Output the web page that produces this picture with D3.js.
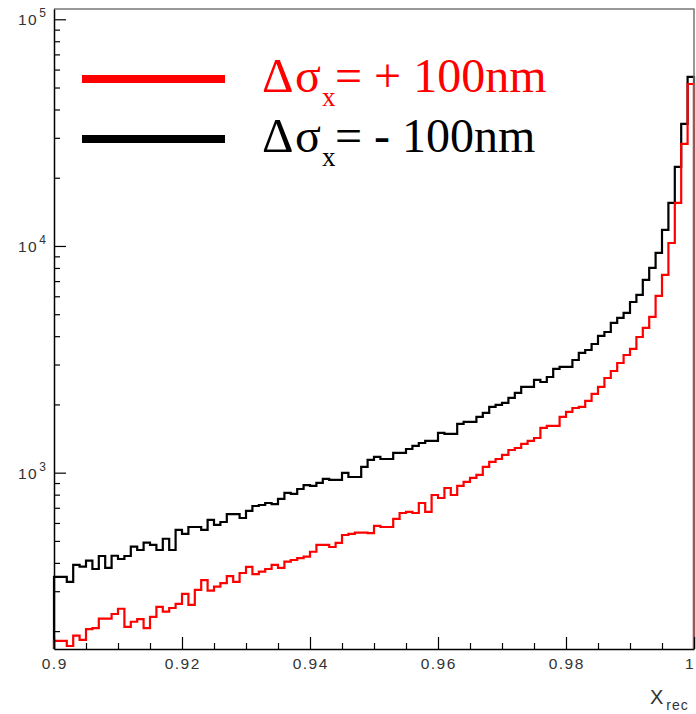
<!DOCTYPE html>
<html>
<head>
<meta charset="utf-8">
<script src="https://cdn.jsdelivr.net/npm/d3@7"></script>
<style>
  body { margin: 0; background: #fff; }
  svg { display: block; }
</style>
</head>
<body>
<div id="chart"></div>
<script>
// Histogram of X_rec, 100 bins between 0.9 and 1

const binLow = 0.9;
const binHigh = 1.0;

// counts for sigma_x + 100nm (red)
const countsPlus = [
  181, 181, 172, 191, 183, 204, 206, 227, 227, 238,
  251, 209, 220, 226, 206, 231, 256, 244, 253, 264,
  292, 261, 304, 336, 302, 314, 326, 350, 330, 361,
  384, 357, 366, 376, 392, 380, 405, 412, 420, 426,
  448, 480, 480, 470, 490, 531, 537, 544, 544, 541,
  582, 576, 576, 625, 664, 671, 664, 735, 671, 797,
  773, 856, 797, 874, 910, 948, 977, 1060, 1115, 1149,
  1197, 1259, 1285, 1339, 1380, 1422, 1575, 1607, 1607, 1761,
  1853, 1929, 1949, 2072, 2225, 2388, 2616, 2809, 3047, 3305,
  3513, 3968, 4348, 4862, 6020, 7449, 10309, 15479, 28180, 51830
];

// counts for sigma_x - 100nm (black)
const countsMinus = [
  347, 347, 330, 392, 385, 409, 376, 429, 380, 430,
  416, 429, 472, 456, 491, 480, 456, 511, 456, 559,
  537, 576, 576, 559, 619, 588, 606, 657, 657, 631,
  678, 713, 720, 735, 727, 766, 814, 806, 847, 882,
  874, 901, 938, 929, 929, 997, 957, 957, 1060, 1138,
  1173, 1149, 1149, 1222, 1222, 1272, 1312, 1352, 1380, 1380,
  1497, 1482, 1482, 1640, 1674, 1674, 1761, 1834, 1949, 1989,
  2030, 2136, 2247, 2388, 2388, 2564, 2512, 2643, 2867, 2926,
  2926, 3141, 3373, 3477, 3695, 4009, 4174, 4575, 4814, 5064,
  5662, 6081, 7082, 7998, 9316, 11768, 15479, 22310, 34530, 55660
];

const xTickLabels = ["0.9", "0.92", "0.94", "0.96", "0.98", "1"];
const yDecades = [3, 4, 5];

const W = 696;
const H = 714;
const plotLeft = 54;
const plotRight = 694;
const plotTop = 9;
const plotBottom = 649;

const svg = d3
  .select("#chart")
  .append("svg")
  .attr("width", W)
  .attr("height", H);

const x = d3.scaleLinear([binLow, binHigh], [plotLeft, plotRight]);
const y = d3.scaleLog([166.8, 111000], [plotBottom, plotTop]);

const nBins = countsPlus.length;
const binWidth = (binHigh - binLow) / nBins;

function histPoints(counts) {
  let pts = [[x(binLow), plotBottom]];
  counts.forEach((c, i) => {
    pts.push([x(binLow + i * binWidth), y(c)]);
    pts.push([x(binLow + (i + 1) * binWidth), y(c)]);
  });
  pts.push([x(binHigh), plotBottom]);
  return pts;
}

const line = d3.line();

svg.append("path")
  .attr("d", line(histPoints(countsMinus)))
  .attr("fill", "none")
  .attr("stroke", "#000")
  .attr("stroke-width", 2.2);

svg.append("path")
  .attr("d", line(histPoints(countsPlus)))
  .attr("fill", "none")
  .attr("stroke", "#ff0000")
  .attr("stroke-width", 2.2);

// frame: top and right in grey
svg.append("path")
  .attr("d", `M${plotLeft},${plotTop}H${plotRight}V${plotBottom}`)
  .attr("fill", "none")
  .attr("stroke", "#777")
  .attr("stroke-width", 1.5);

// x axis
const xAxis = svg.append("g")
  .attr("transform", `translate(0,${plotBottom})`)
  .call(
    d3.axisTop(x)
      .tickValues(d3.range(21).map((i) => binLow + i * 0.005))
      .tickSize(6)
      .tickSizeOuter(0)
      .tickFormat("")
  );
xAxis.select(".domain").attr("stroke", "#000").attr("stroke-width", 1.5);
xAxis.selectAll(".tick line")
  .attr("stroke", "#000")
  .attr("stroke-width", 1.2)
  .attr("y2", (d, i) => (i % 4 === 0 ? -12 : -6));

svg.append("g")
  .selectAll("text")
  .data(xTickLabels)
  .join("text")
  // last label would run off the page, keep it just inside
  .attr("x", (d) => Math.min(x(+d) + 0.75, W - 6))
  .attr("y", plotBottom + 20)
  .attr("text-anchor", "middle")
  .style("font-family", "'Liberation Sans', Arial, sans-serif")
  .style("font-size", "15.5px")
  .style("letter-spacing", "1.5px")
  .style("fill", "#333")
  .text((d) => d);

// x title
svg.append("text")
  .attr("x", 650)
  .attr("y", 704)
  .style("font-family", "'Liberation Sans', Arial, sans-serif")
  .style("font-size", "20px")
  .style("fill", "#333")
  .call((t) => {
    t.append("tspan").text("X");
    t.append("tspan")
      .attr("dy", 6)
      .attr("dx", 3)
      .style("font-size", "14px")
      .style("letter-spacing", "1px")
      .text("rec");
  });

// y axis, log ticks
const yMajor = yDecades.map((e) => Math.pow(10, e));
let yMinor = [];
[100, 1000, 10000].forEach((base) => {
  d3.range(2, 10).forEach((m) => yMinor.push(m * base));
});

const yAxis = svg.append("g")
  .attr("transform", `translate(${plotLeft},0)`)
  .call(
    d3.axisRight(y)
      .tickValues(yMajor.concat(yMinor))
      .tickSize(6)
      .tickSizeOuter(0)
      .tickFormat("")
  );
yAxis.select(".domain").attr("stroke", "#000").attr("stroke-width", 1.5);
yAxis.selectAll(".tick line")
  .attr("stroke", "#000")
  .attr("stroke-width", 1.2)
  .attr("x2", (d) => (yMajor.includes(d) ? 12 : 6));

const yLabels = svg.append("g")
  .selectAll("text")
  .data(yDecades)
  .join("text")
  .attr("x", 18)
  .attr("y", (d) => y(Math.pow(10, d)) + 6)
  .style("font-family", "'Liberation Sans', Arial, sans-serif")
  .style("font-size", "15.5px")
  .style("fill", "#333");
yLabels.append("tspan")
  .style("letter-spacing", "1.5px")
  .text("10");
yLabels.append("tspan")
  .attr("dy", -8)
  .attr("dx", 1)
  .style("font-size", "12px")
  .text((d) => d);

// legend
const legendItems = [
  { sign: "+", color: "#ff0000", y: 79 },
  { sign: "-", color: "#000000", y: 139 },
];

const legend = svg.append("g");

legend.selectAll("line")
  .data(legendItems)
  .join("line")
  .attr("x1", 82)
  .attr("x2", 225)
  .attr("y1", (d) => d.y)
  .attr("y2", (d) => d.y)
  .attr("stroke", (d) => d.color)
  .attr("stroke-width", 8);

legendItems.forEach((d) => {
  legend.append("text")
    .attr("x", 262)
    .attr("y", d.y + 13)
    .style("font-family", "'Liberation Serif', 'Times New Roman', serif")
    .style("font-size", "48px")
    .style("fill", d.color)
    .style("white-space", "pre")
    .call((t) => {
      t.append("tspan").style("font-size", "49px").text("\u0394");
      t.append("tspan").attr("x", 295).text("\u03C3");
      t.append("tspan")
        .attr("x", 322)
        .attr("dy", 14)
        .style("font-size", "27px")
        .text("x");
      t.append("tspan")
        .attr("x", 335)
        .attr("dy", -14)
        .text("= " + d.sign + " 100nm");
    });
});
</script>
</body>
</html>
